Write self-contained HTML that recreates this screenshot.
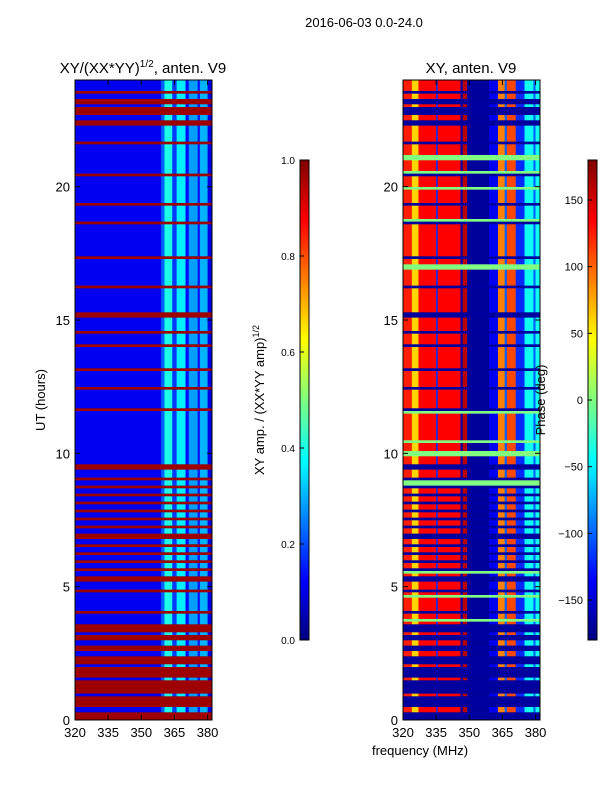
<!DOCTYPE html>
<html><head><meta charset="utf-8"><style>
body{margin:0;background:#fff;width:600px;height:800px;overflow:hidden}
svg text{font-family:"Liberation Sans",sans-serif;fill:#000}
</style></head><body>
<svg id="s" width="600" height="800" xmlns="http://www.w3.org/2000/svg">
<defs><linearGradient id="jet" x1="0" y1="1" x2="0" y2="0">
<stop offset="0" stop-color="#00007f"/><stop offset="0.125" stop-color="#0000ff"/><stop offset="0.375" stop-color="#00ffff"/><stop offset="0.625" stop-color="#ffff00"/><stop offset="0.875" stop-color="#ff0000"/><stop offset="1" stop-color="#7f0000"/></linearGradient></defs>
<text x="364" y="27" font-size="13" text-anchor="middle">2016-06-03 0.0-24.0</text>
<text x="143" y="73" font-size="15" text-anchor="middle">XY/(XX*YY)<tspan font-size="10" dy="-6">1/2</tspan><tspan dy="6">, anten. V9</tspan></text>
<text x="471" y="73" font-size="15" text-anchor="middle">XY, anten. V9</text>
<g id="left"></g>
<g id="right"></g>
<rect x="300" y="160" width="9" height="480" fill="url(#jet)" stroke="#000" stroke-width="1"/>
<rect x="588" y="160" width="9" height="480" fill="url(#jet)" stroke="#000" stroke-width="1"/>
<g id="axes"></g>
<text transform="translate(264,400) rotate(-90)" font-size="13" text-anchor="middle">XY amp. / (XX*YY amp)<tspan font-size="9" dy="-5">1/2</tspan></text>
<text transform="translate(545,400) rotate(-90)" font-size="13" text-anchor="middle">Phase (deg)</text>
<text transform="translate(45,400) rotate(-90)" font-size="13" text-anchor="middle">UT (hours)</text>
<text x="420" y="755" font-size="13" text-anchor="middle">frequency (MHz)</text>
</svg>
<script>
const redBands=[[0,0.3],[0.5,0.9],[1.0,1.5],[1.6,2.0],[2.1,2.4],[2.6,2.8],[3.0,3.2],[3.3,3.6],[4.0,4.1],[4.8,4.9],[5.2,5.35],[5.6,5.7],[5.9,6.0],[6.2,6.3],[6.5,6.6],[6.8,6.95],[7.2,7.3],[7.5,7.6],[7.8,7.9],[8.1,8.2],[8.4,8.5],[8.7,8.8],[9.0,9.1],[9.4,9.6],[11.6,11.7],[12.4,12.5],[13.1,13.2],[14.0,14.1],[14.5,14.6],[15.1,15.3],[16.2,16.3],[17.3,17.4],[18.6,18.7],[19.3,19.4],[20.4,20.5],[21.6,21.7],[22.3,22.5],[22.7,23.0],[23.1,23.3],[23.5,23.6]];
const greenBands=[[3.7,3.8],[4.6,4.7],[5.5,5.6],[8.8,9.0],[9.9,10.1],[10.4,10.5],[11.5,11.6],[16.9,17.1],[18.7,18.8],[19.9,20.0],[20.5,20.6],[21.0,21.2]];
const ampFreqEdges=[320,359,360.5,364,366,370,371.5,375.5,376.5,380,382];
const ampVals=[0.11,0.22,0.4,0.18,0.36,0.14,0.28,0.14,0.3,0.1];
const phaseFreqEdges=[320,324,327,335,335.7,346,347,349,359,363,366,367,371,375,379,380,382];
const phaseVals=[125,60,135,-120,135,-165,160,-170,-140,90,-100,110,-120,-40,-100,-40];
const rowStep=0.1;
const xTicks=[320,335,350,365,380];
const yTicks=[0,5,10,15,20];
const ampTicks=[0,0.2,0.4,0.6,0.8,1.0];
const phaseTicks=[-150,-100,-50,0,50,100,150];
const NS="http://www.w3.org/2000/svg";
function jet(v){const st=[[0,0,0,127],[0.125,0,0,255],[0.375,0,255,255],[0.625,255,255,0],[0.875,255,0,0],[1,127,0,0]];v=Math.max(0,Math.min(1,v));for(let i=1;i<st.length;i++){if(v<=st[i][0]){const a=st[i-1],b=st[i],t=(v-a[0])/(b[0]-a[0]);return`rgb(${Math.round(a[1]+t*(b[1]-a[1]))},${Math.round(a[2]+t*(b[2]-a[2]))},${Math.round(a[3]+t*(b[3]-a[3]))})`;}}return"#7f0000";}
const yS=h=>720-h*(640/24);
const xL=f=>75+(f-320)*(137/62), xR=f=>403+(f-320)*(137/62);
const inB=(h,bs)=>bs.some(b=>h>=b[0]-1e-9&&h<b[1]-1e-9);
function rect(g,x,y,w,h,fill,name){const r=document.createElementNS(NS,'rect');r.setAttribute('x',x);r.setAttribute('y',y);r.setAttribute('width',w);r.setAttribute('height',h);r.setAttribute('fill',fill);


g.appendChild(r);}
const L=document.getElementById('left'),R=document.getElementById('right');
for(let k=0;k<24/rowStep;k++){const h=k*rowStep+1e-6,y0=yS(h+rowStep-1e-6),hh=yS(h)-y0+0.3;
 if(inB(h,redBands)){rect(L,75,y0,137,hh,jet(0.97),'flagged-row');rect(R,403,y0,137,hh,jet(0.03),'flagged-row');continue;}
 for(let i=0;i<ampVals.length;i++)rect(L,xL(ampFreqEdges[i]),y0,xL(ampFreqEdges[i+1])-xL(ampFreqEdges[i])+0.3,hh,jet(ampVals[i]),'amp-cell');
 if(inB(h,greenBands)){rect(R,403,y0,137,hh,jet(0.5),'flagged-row');continue;}
 for(let i=0;i<phaseVals.length;i++)rect(R,xR(phaseFreqEdges[i]),y0,xR(phaseFreqEdges[i+1])-xR(phaseFreqEdges[i])+0.3,hh,jet((phaseVals[i]+180)/360),'phase-cell');
}
const A=document.getElementById('axes');
function line(x1,y1,x2,y2){const l=document.createElementNS(NS,'line');l.setAttribute('x1',x1);l.setAttribute('y1',y1);l.setAttribute('x2',x2);l.setAttribute('y2',y2);l.setAttribute('stroke','#000');


A.appendChild(l);}
function txt(x,y,s,anc,fs){const t=document.createElementNS(NS,'text');t.setAttribute('x',x);t.setAttribute('y',y);t.setAttribute('text-anchor',anc);t.setAttribute('font-size',fs);t.textContent=s;


A.appendChild(t);}
[75,403].forEach((x0,pi)=>{const b=document.createElementNS(NS,'rect');b.setAttribute('x',x0);b.setAttribute('y',80);b.setAttribute('width',137);b.setAttribute('height',640);b.setAttribute('fill','none');b.setAttribute('stroke','#000');


A.appendChild(b);
const xf=pi?xR:xL;
xTicks.forEach(f=>{const x=xf(f);line(x,720,x,715);line(x,80,x,85);txt(x,737,f,'middle',13);});
yTicks.forEach(h=>{const y=yS(h);line(x0,y,x0+5,y);line(x0+137,y,x0+132,y);txt(x0-5,y+5,h,'end',13);});});
ampTicks.forEach(v=>{const y=640-v*480;line(300,y,304,y);txt(295,y+4,v.toFixed(1),'end',10);});
phaseTicks.forEach(v=>{const y=400-v*(480/360);line(588,y,592,y);txt(583,y+4,v<0?'\u2212'+(-v):v,'end',11);});
</script>
</body></html>
